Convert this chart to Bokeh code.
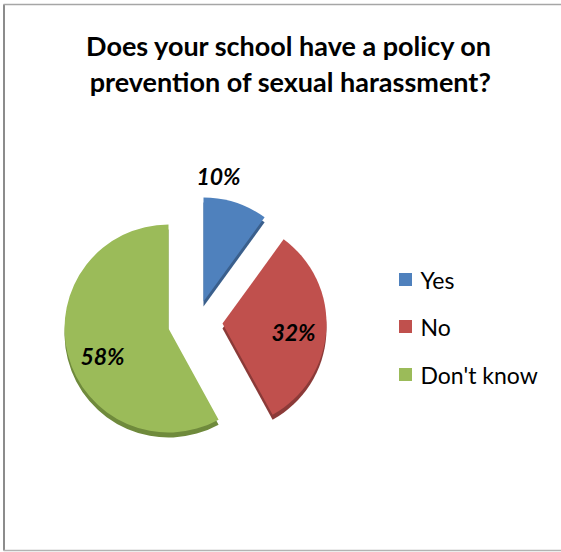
import numpy as np
from bokeh.plotting import figure
from bokeh.models import Range1d, ColumnDataSource
from bokeh.core.properties import value
from bokeh.embed import file_html
from bokeh.resources import INLINE

# ---- data ----
categories = ["Yes", "No", "Don't know"]
shares = [10, 32, 58]
pct_labels = ["10%", "32%", "58%"]
title_lines = ["Does your school have a policy on", "prevention of sexual harassment?"]

colors = ["#4F81BD", "#C0504D", "#9BBB59"]
side_colors = ["#3A5F8C", "#8B3A38", "#6F8A3C"]

W, H = 561, 552
FONT = "Lato"

def Y(ypix):
    return H - ypix

p = figure(width=W, height=H, x_range=Range1d(0, W), y_range=Range1d(0, H),
           output_backend="svg", toolbar_location=None, min_border=0)
p.axis.visible = False
p.grid.visible = False
p.outline_line_color = None
p.background_fill_color = "white"

# ---- frame ----
p.segment(x0=[3.5], y0=[Y(4)], x1=[3.5], y1=[Y(550)], line_color="#8c8c8c", line_width=2)
p.segment(x0=[3], y0=[Y(4)], x1=[W], y1=[Y(4)], line_color="#a6a6a6", line_width=1.5)
p.segment(x0=[3], y0=[Y(550)], x1=[W], y1=[Y(550)], line_color="#b3b3b3", line_width=1.5)

# ---- pie geometry (clockwise from 12 o'clock, like the original) ----
vals = np.array(shares, dtype=float)
frac = vals / vals.sum()
cw_end = np.cumsum(frac) * 2 * np.pi
cw_start = cw_end - frac * 2 * np.pi
start_ang = np.pi / 2 - cw_end      # bokeh: counter-clockwise from +x
end_ang = np.pi / 2 - cw_start

# vertex of each exploded slice (pixel space)
vx = [203, 222, 168]
vy = [301, 323, 328]
R = 104
DEPTH = 5

src = ColumnDataSource(dict(
    x=vx, y=[Y(v) for v in vy], ys=[Y(v) - DEPTH for v in vy],
    start=start_ang, end=end_ang, color=colors, side=side_colors, cat=categories,
))

# 3D side
p.wedge(x="x", y="ys", radius=R, start_angle="start", end_angle="end",
        fill_color="side", line_color=None, source=src)
# top face
p.wedge(x="x", y="y", radius=R, start_angle="start", end_angle="end",
        fill_color="color", line_color=None, source=src)

# ---- percentage labels ----
lab_x = [218, 293, 102]
lab_y = [175, 331, 355]
p.text(x=lab_x, y=[Y(v) for v in lab_y], text=pct_labels,
       text_font=value(FONT), text_font_style="bold italic", text_font_size="23px",
       text_align="center", text_baseline="middle", text_color="black")

# ---- title ----
p.text(x=[289, 290], y=[Y(45), Y(81)], text=title_lines,
       text_font=value(FONT), text_font_style="bold", text_font_size="27px",
       text_align="center", text_baseline="middle", text_color="black")

# ---- legend ----
leg_y = [279, 326, 374]
p.scatter(x=[405] * 3, y=[Y(v) for v in leg_y], marker="square", size=13,
          fill_color=colors, line_color=None)
p.text(x=[420] * 3, y=[Y(v) for v in leg_y], text=categories,
       text_font=value(FONT), text_font_size="23px",
       text_align="left", text_baseline="middle", text_color="black")

open("out.html", "w").write(file_html(p, INLINE))
